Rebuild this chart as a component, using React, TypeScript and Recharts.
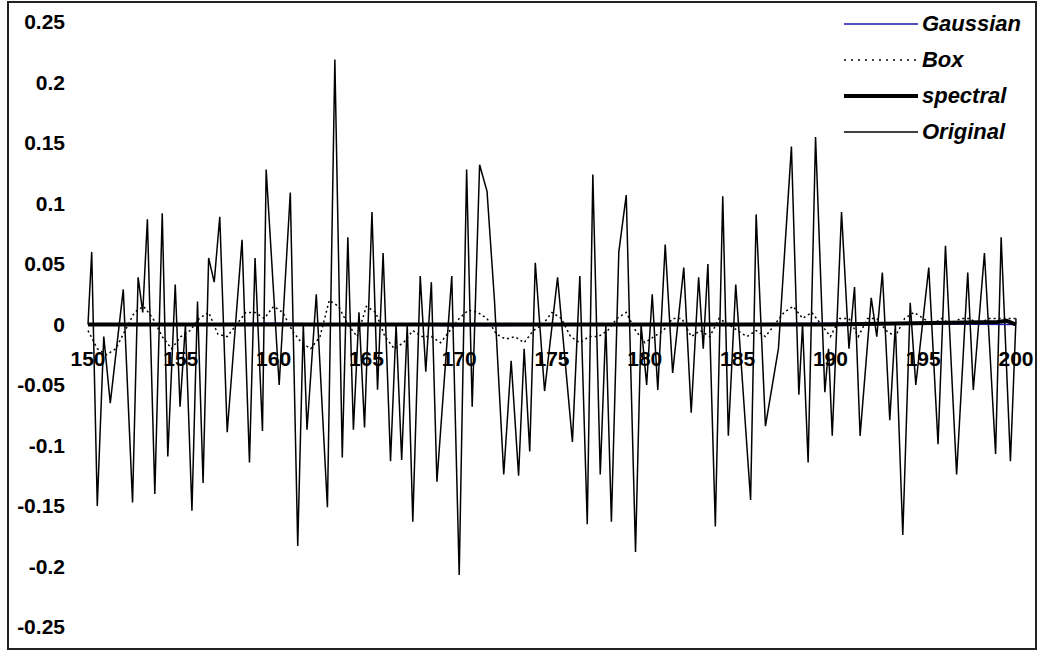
import { LineChart, Line, XAxis, YAxis, Legend, ReferenceDot } from 'recharts';

// time axis ticks and amplitude ticks
const X_TICKS = [150, 155, 160, 165, 170, 175, 180, 185, 190, 195, 200];
const Y_TICKS = [-0.25, -0.2, -0.15, -0.1, -0.05, 0, 0.05, 0.1, 0.15, 0.2, 0.25];

// raw signal: [time, amplitude]
const originalSamples: [number, number][] = [
  [150.0, 0.0], [150.2, 0.06], [150.5, -0.15], [150.85, -0.01], [151.2, -0.065],
  [151.9, 0.029], [152.4, -0.147], [152.7, 0.039], [152.95, 0.01], [153.2, 0.087],
  [153.6, -0.14], [154.0, 0.092], [154.3, -0.109], [154.7, 0.033], [154.96, -0.068],
  [155.25, 0.0], [155.6, -0.154], [155.9, 0.019], [156.2, -0.131], [156.5, 0.055],
  [156.8, 0.035], [157.1, 0.089], [157.5, -0.089], [158.3, 0.07], [158.7, -0.114],
  [159.0, 0.055], [159.4, -0.088], [159.6, 0.128], [160.3, -0.05], [160.9, 0.109],
  [161.3, -0.183], [161.6, 0.0], [161.8, -0.087], [162.3, 0.025], [162.9, -0.151],
  [163.3, 0.219], [163.7, -0.11], [164.0, 0.072], [164.3, -0.087], [164.6, 0.01],
  [164.9, -0.085], [165.3, 0.093], [165.6, -0.054], [165.9, 0.059], [166.3, -0.113],
  [166.6, 0.0], [166.9, -0.112], [167.2, 0.0], [167.5, -0.163], [167.9, 0.04],
  [168.2, -0.039], [168.5, 0.035], [168.8, -0.13], [169.6, 0.04], [170.0, -0.207],
  [170.4, 0.128], [170.7, -0.068], [171.1, 0.132], [171.5, 0.11], [171.9, 0.02],
  [172.4, -0.124], [172.8, -0.03], [173.2, -0.125], [173.5, -0.02], [173.8, -0.105],
  [174.1, 0.051], [174.6, -0.055], [175.3, 0.039], [176.1, -0.097], [176.5, 0.04],
  [176.9, -0.165], [177.2, 0.124], [177.6, -0.124], [177.9, 0.0], [178.2, -0.163],
  [178.6, 0.06], [179.0, 0.107], [179.5, -0.188], [179.8, 0.0], [180.1, -0.05],
  [180.4, 0.025], [180.7, -0.054], [181.1, 0.066], [181.5, -0.04], [182.1, 0.047],
  [182.5, -0.073], [182.9, 0.039], [183.15, -0.02], [183.4, 0.05], [183.8, -0.167],
  [184.2, 0.106], [184.5, -0.092], [184.9, 0.033], [185.7, -0.145], [186.0, 0.091],
  [186.5, -0.084], [187.2, -0.02], [187.9, 0.147], [188.3, -0.058], [188.5, 0.0],
  [188.8, -0.114], [189.2, 0.155], [189.7, -0.056], [189.9, -0.02], [190.1, -0.092],
  [190.6, 0.093], [191.0, -0.02], [191.3, 0.031], [191.6, -0.092], [192.2, 0.022],
  [192.5, -0.01], [192.8, 0.043], [193.2, -0.079], [193.5, 0.0], [193.9, -0.174],
  [194.3, 0.018], [194.6, -0.05], [195.3, 0.047], [195.8, -0.099], [196.2, 0.065],
  [196.8, -0.124], [197.4, 0.043], [197.7, -0.054], [198.3, 0.059], [198.9, -0.107],
  [199.2, 0.072], [199.7, -0.113], [200.0, 0.005],
];

// box-filtered signal
const boxSamples: [number, number][] = [
  [150.0, -0.005], [150.5, -0.02], [151.0, -0.025], [151.5, -0.02], [152.0, -0.005],
  [152.5, 0.01], [153.0, 0.015], [153.5, 0.005], [154.0, -0.01], [154.5, -0.02],
  [155.0, -0.01], [155.5, -0.005], [156.0, 0.005], [156.5, 0.01], [157.0, -0.008],
  [157.5, -0.01], [158.0, 0.0], [158.5, 0.01], [159.0, 0.01], [159.5, 0.005],
  [160.0, 0.015], [160.5, 0.01], [161.0, -0.005], [161.5, -0.015], [162.0, -0.02],
  [162.5, -0.01], [163.0, 0.02], [163.5, 0.015], [164.0, 0.0], [164.5, -0.01],
  [165.0, 0.015], [165.5, 0.01], [166.0, -0.01], [166.5, -0.02], [167.0, -0.015],
  [167.5, -0.005], [168.0, -0.01], [168.5, -0.01], [169.0, -0.015], [169.5, -0.005],
  [170.0, 0.005], [170.5, 0.012], [171.0, 0.01], [171.5, 0.005], [172.0, -0.008],
  [172.5, -0.012], [173.0, -0.01], [173.5, -0.015], [174.0, -0.005], [174.5, 0.0],
  [175.0, 0.01], [175.5, 0.005], [176.0, -0.01], [176.5, -0.015], [177.0, -0.01],
  [177.5, -0.01], [178.0, -0.005], [178.5, 0.005], [179.0, 0.01], [179.5, -0.005],
  [180.0, -0.015], [180.5, -0.01], [181.0, -0.005], [181.5, 0.005], [182.0, 0.005],
  [182.5, -0.01], [183.0, -0.005], [183.5, -0.01], [184.0, 0.005], [184.5, 0.0],
  [185.0, -0.005], [185.5, -0.01], [186.0, -0.005], [186.5, -0.01], [187.0, 0.0],
  [187.5, 0.01], [188.0, 0.015], [188.5, 0.005], [189.0, 0.01], [189.5, 0.0],
  [190.0, -0.01], [190.5, 0.005], [191.0, 0.005], [191.5, -0.01], [192.0, 0.005],
  [192.5, 0.005], [193.0, -0.005], [193.5, -0.01], [194.0, 0.005], [194.5, 0.01],
  [195.0, 0.005], [195.5, 0.0], [196.0, 0.005], [196.5, 0.0], [197.0, 0.005],
  [197.5, 0.005], [198.0, 0.0], [198.5, 0.005], [199.0, 0.005], [199.5, 0.005],
  [200.0, 0.005],
];

// gaussian and spectral filters stay almost flat
const gaussianSamples: [number, number][] = [
  [150, 0.0], [160, 0.001], [170, -0.001], [180, 0.0], [190, 0.001], [200, 0.0],
];
const spectralSamples: [number, number][] = [
  [150, 0.0], [160, 0.0], [170, 0.0], [180, 0.0], [190, 0.0], [199, 0.002], [199.5, 0.003], [200, 0.0],
];

const toRows = (s: [number, number][]) => s.map(([t, v]) => ({ t, v }));

const LEGEND_ITEMS = [
  { name: 'Gaussian', color: '#1a1aa6', width: 1.5, dash: undefined },
  { name: 'Box', color: '#000', width: 1.5, dash: '2 5' },
  { name: 'spectral', color: '#000', width: 4, dash: undefined },
  { name: 'Original', color: '#000', width: 1.5, dash: undefined },
];

const tickFont = { fontFamily: '"Liberation Sans", Arial, sans-serif', fontWeight: 700, fontSize: 21, fill: '#000' };

function renderLegend() {
  return (
    <div style={{ display: 'flex', flexDirection: 'column', gap: 10 }}>
      {LEGEND_ITEMS.map((it) => (
        <div key={it.name} style={{ display: 'flex', alignItems: 'center', height: 26 }}>
          <svg width={74} height={8} style={{ marginRight: 4 }}>
            <line x1={0} y1={4} x2={74} y2={4} stroke={it.color} strokeWidth={it.width} strokeDasharray={it.dash} />
          </svg>
          <span
            style={{
              fontFamily: '"Liberation Sans", Arial, sans-serif',
              fontWeight: 700,
              fontStyle: 'italic',
              fontSize: 22,
              color: '#000',
            }}
          >
            {it.name}
          </span>
        </div>
      ))}
    </div>
  );
}

export default function App() {
  return (
    <div style={{ position: 'absolute', left: 0, top: 0, width: 1039, height: 652, background: '#fff' }}>
      <div
        style={{
          position: 'absolute',
          left: 7,
          top: 1,
          width: 1030,
          height: 649,
          border: '2px solid #222',
          boxSizing: 'border-box',
        }}
      />
      <LineChart width={1039} height={652} margin={{ top: 22, right: 23, bottom: 25, left: 0 }}>
        <XAxis type="number" dataKey="t" domain={[150, 200]} ticks={X_TICKS} hide />
        <YAxis
          type="number"
          dataKey="v"
          domain={[-0.25, 0.25]}
          ticks={Y_TICKS}
          width={88}
          axisLine={false}
          tickLine={false}
          tickSize={0}
          tickMargin={23}
          tick={tickFont}
        />
        <Legend
          layout="horizontal"
          verticalAlign="middle"
          align="center"
          content={renderLegend}
          wrapperStyle={{ position: 'absolute', top: 11, right: 18, left: 'auto', width: 'auto' }}
        />
        <Line data={toRows(originalSamples)} dataKey="v" name="Original" stroke="#000" strokeWidth={1.5} dot={false} isAnimationActive={false} />
        <Line data={toRows(gaussianSamples)} dataKey="v" name="Gaussian" stroke="#1a1aa6" strokeWidth={1.5} dot={false} isAnimationActive={false} />
        <Line data={toRows(boxSamples)} dataKey="v" name="Box" stroke="#000" strokeWidth={1.5} strokeDasharray="2 3" dot={false} isAnimationActive={false} />
        <Line data={toRows(spectralSamples)} dataKey="v" name="spectral" stroke="#000" strokeWidth={4} dot={false} isAnimationActive={false} />
        {X_TICKS.map((t) => (
          <ReferenceDot
            key={t}
            x={t}
            y={0}
            r={0}
            fill="none"
            stroke="none"
            label={{ value: String(t), position: 'bottom', offset: 27, ...tickFont }}
          />
        ))}
      </LineChart>
    </div>
  );
}
